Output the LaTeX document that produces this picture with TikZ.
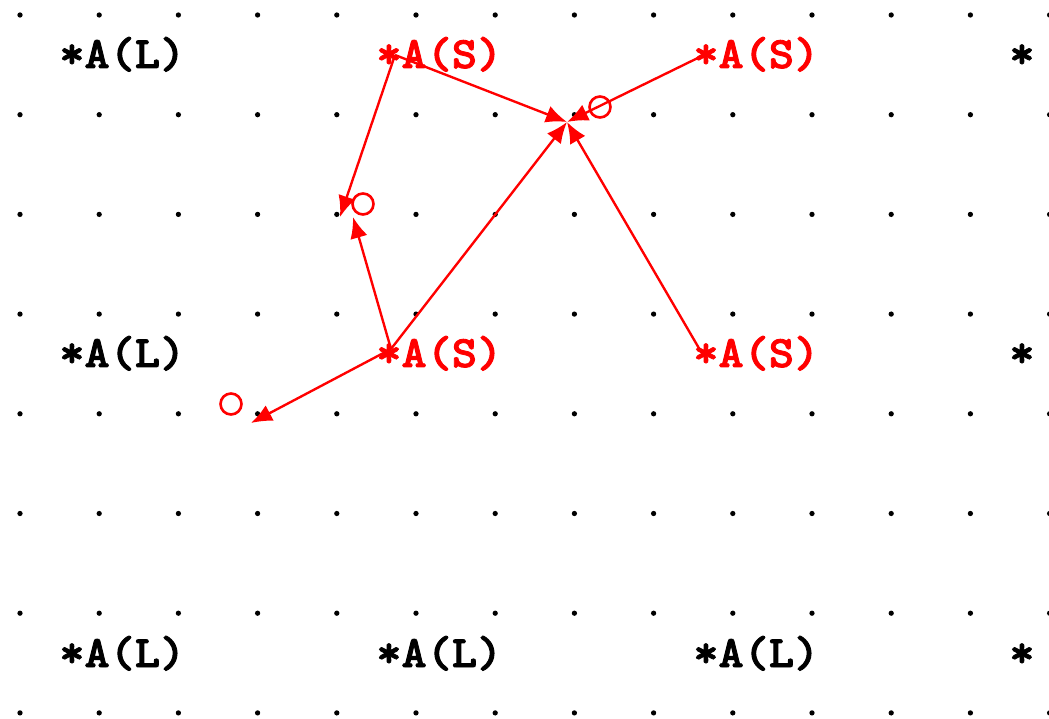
\documentclass[tikz,border=0pt]{standalone}
\usepackage{fontspec}
\usepackage{xcolor}
\usepackage{tikz}
\usetikzlibrary{arrows.meta}
\newfontfamily\tipo[FakeBold=2,FakeStretch=1.07]{lmmonolt10-bold.otf}
\definecolor{rojo}{HTML}{FF0000}

\begin{document}
\begin{tikzpicture}[x=0.02cm, y=-0.02cm,
      punto/.style={fill=black},
      etiq/.style={anchor=base west, inner sep=0pt,
                   font=\tipo\fontsize{25.5}{28}\selectfont},
      etiqs/.style={etiq, text=rojo},
      anillo/.style={circle, draw=rojo, line width=1.5pt, minimum size=0.42cm, inner sep=0pt},
      flecha/.style={-{Latex[length=12pt,width=10pt]}, draw=rojo, line width=1.35pt}]

    \useasboundingbox (0,0) rectangle (1049,719);

    % rejilla de puntos
    \foreach \i in {0,...,13}
      \foreach \j in {0,...,7}
        \fill[punto] ({20+79.2*\i},{15+99.7*\j}) circle (1.5pt);

    \node[etiq]  (l1) at (59,68)   {*A(L)};
    \node[etiqs] (s1) at (376,68)  {*A(S)};
    \node[etiqs] (s2) at (693,68)  {*A(S)};
    \node[etiq]  (e1) at (1009,68) {*};
    \node[etiq]  (l2) at (59,367)  {*A(L)};
    \node[etiqs] (s3) at (376,367) {*A(S)};
    \node[etiqs] (s4) at (693,367) {*A(S)};
    \node[etiq]  (e2) at (1009,367) {*};
    \node[etiq]  (l3) at (59,667)  {*A(L)};
    \node[etiq]  (l4) at (376,667) {*A(L)};
    \node[etiq]  (l5) at (693,667) {*A(L)};
    \node[etiq]  (e3) at (1009,667) {*};

    \node[anillo] (oa) at (363,204) {};
    \node[anillo] (ob) at (600,107) {};
    \node[anillo] (oc) at (231,404) {};

    \coordinate (p1) at (395,55);
    \coordinate (p2) at (708,53);
    \coordinate (p3) at (391,349);
    \coordinate (p4) at (700,350);
    \coordinate (ha1) at (340,217);
    \coordinate (ha2) at (353,217);
    \coordinate (hb) at (567,122);
    \coordinate (hc) at (251,423);

    \draw[flecha] (p1) -- (ha1);
    \draw[flecha] (p1) -- (hb);
    \draw[flecha] (p2) -- (hb);
    \draw[flecha] (p3) -- (hb);
    \draw[flecha] (p3) -- (ha2);
    \draw[flecha] (p3) -- (hc);
    \draw[flecha] (p4) -- (hb);
  \end{tikzpicture}
\end{document}
